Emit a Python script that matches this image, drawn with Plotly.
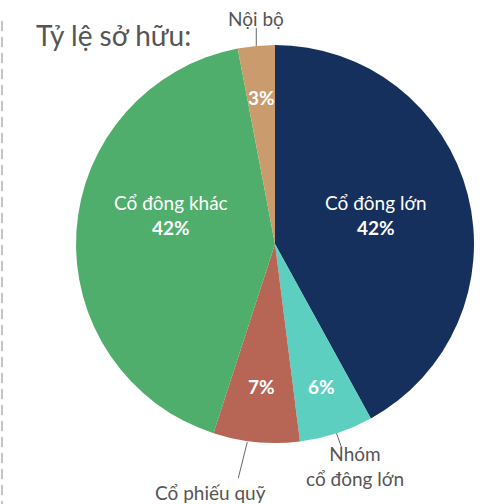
import math
import plotly.graph_objects as go

# ---- data ----
labels = ["Cổ đông lớn", "Nhóm cổ đông lớn", "Cổ phiếu quỹ", "Cổ đông khác", "Nội bộ"]
values = [42, 6, 7, 42, 3]
colors = ["#15305c", "#5ccfc0", "#b76555", "#4fae6c", "#c99b6d"]
inside_names = ["Cổ đông lớn", "", "", "Cổ đông khác", ""]
outside_names = ["", "Nhóm<br>cổ đông lớn", "Cổ phiếu quỹ", "", "Nội bộ"]
title_text = "Tỷ lệ sở hữu:"

# ---- layout constants (pixels) ----
W, H = 483, 504
CX, CY, R = 275, 244, 199
FONT = "Lato"


def px_x(x):
    return x / W


def px_y(y):
    return 1 - y / H


total = sum(values)

fig = go.Figure(go.Pie(
    labels=labels,
    values=values,
    textinfo="none",
    marker=dict(colors=colors, line=dict(width=0)),
    sort=False,
    direction="clockwise",
    rotation=0,
    showlegend=False,
    hoverinfo="label+percent",
    domain=dict(x=[px_x(CX - R), px_x(CX + R)], y=[px_y(CY + R), px_y(CY - R)]),
))

# inside label placement: radial distance and vertical nudge per slice
inside_pos = [(104, -3), (150, 0), (143, 0), (104, -22), (147, 0)]
# outside labels with leader lines
outside_pos = {
    1: dict(d0=0, line=(5, 14), text=(355, 466)),
    2: dict(d0=-9, line=(-9, 36), text=(210, 492)),
    4: dict(d0=0, line=(0, -18), text=(256, 19)),
}
shapes = []
annotations = []
cum = 0
for i, v in enumerate(values):
    mid = (cum + v / 2) / total * 2 * math.pi
    cum += v
    pct = round(100 * v / total)
    r, dy = inside_pos[i]
    tx = CX + r * math.sin(mid)
    ty = CY - r * math.cos(mid) + dy
    if inside_names[i]:
        txt = f"{inside_names[i]}<br><b>{pct}%</b>"
    else:
        txt = f"<b>{pct}%</b>"
    annotations.append(dict(text=txt, xref="paper", yref="paper",
                            x=px_x(tx), y=px_y(ty), xanchor="center", yanchor="middle",
                            showarrow=False,
                            font=dict(family=FONT, size=19, color="white")))
    if not outside_names[i]:
        continue
    o = outside_pos[i]
    ex = CX + R * math.sin(mid) + o["d0"]
    ey = CY - R * math.cos(mid)
    shapes.append(dict(type="line", xref="paper", yref="paper",
                       x0=px_x(ex), y0=px_y(ey),
                       x1=px_x(ex + o["line"][0]), y1=px_y(ey + o["line"][1]),
                       line=dict(color="#666666", width=1)))
    annotations.append(dict(text=outside_names[i], xref="paper", yref="paper",
                            x=px_x(o["text"][0]), y=px_y(o["text"][1]),
                            xanchor="center", yanchor="middle", showarrow=False,
                            font=dict(family=FONT, size=19, color="#555555")))

annotations.append(dict(text=title_text, xref="paper", yref="paper",
                        x=px_x(34), y=px_y(35), xanchor="left", yanchor="middle",
                        showarrow=False,
                        font=dict(family=FONT, size=28, color="#555555")))

shapes.append(dict(type="line", xref="paper", yref="paper",
                   x0=px_x(2), x1=px_x(2), y0=px_y(21), y1=0,
                   line=dict(color="#c4c4c4", width=2, dash="10px,6px")))

fig.update_layout(
    width=W, height=H,
    margin=dict(l=0, r=0, t=0, b=0),
    paper_bgcolor="white",
    plot_bgcolor="white",
    shapes=shapes,
    annotations=annotations,
)

fig.write_html("out.html",
               config={"displayModeBar": False},
               post_script="document.body.style.margin='0';document.body.style.overflow='hidden';")
